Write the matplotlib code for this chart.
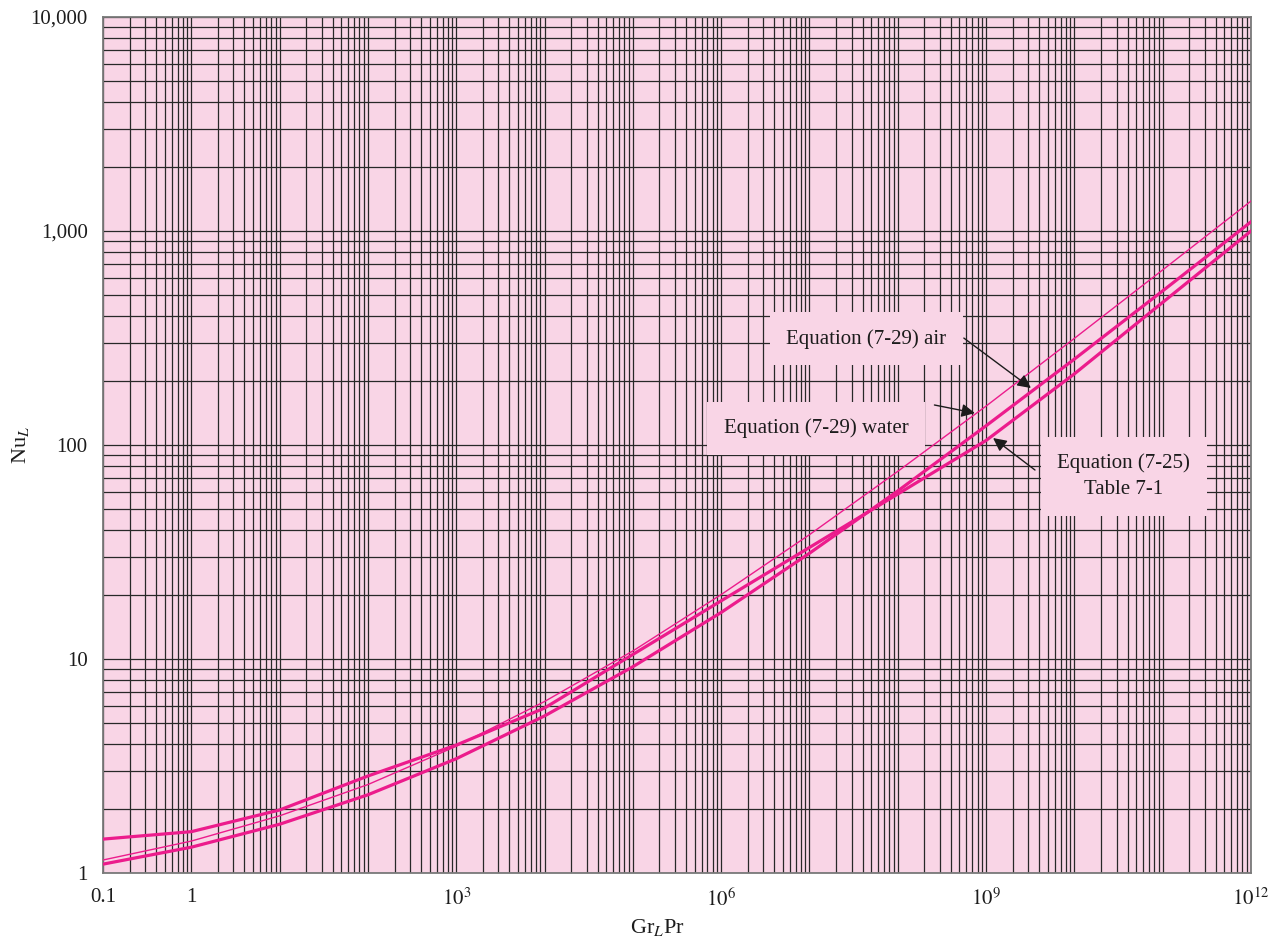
import matplotlib
matplotlib.use("Agg")
import matplotlib.pyplot as plt
from matplotlib.ticker import LogLocator, NullFormatter

plt.rcParams['font.family'] = ['Liberation Serif', 'DejaVu Serif']
plt.rcParams['mathtext.fontset'] = 'stix'

# Gr_L Pr values (decade points the curves were drawn through)
gr_pr = [0.1, 1, 10, 1e2, 1e3, 1e4, 1e5, 1e6, 1e7, 1e8, 1e9, 1e10, 1e11, 1e12]

# Nu_L
nu_table_7_1 = [1.44, 1.56, 1.97, 2.84, 3.96, 5.9, 10.5, 18.7, 33.2, 59, 105, 215, 464, 1000]
nu_eq_air = [1.10, 1.32, 1.69, 2.32, 3.42, 5.42, 9.2, 16.5, 31.2, 61, 123, 252, 525, 1104]
nu_eq_water = [1.15, 1.41, 1.85, 2.59, 3.91, 6.33, 10.9, 20.0, 38.1, 75.3, 152, 315, 658, 1380]

x_ticks = [1e-1, 1, 1e1, 1e2, 1e3, 1e4, 1e5, 1e6, 1e7, 1e8, 1e9, 1e10, 1e11, 1e12]
x_tick_labels = ['0.1', '1', '', '', r'$10^3$', '', '', r'$10^6$', '', '', r'$10^9$', '', '', r'$10^{12}$']
y_ticks = [1, 10, 100, 1000, 10000]
y_tick_labels = ['1', '10', '100', '1,000', '10,000']

pink = '#F9D5E6'
magenta = '#EC1C8C'
grid_color = '#282828'
ink = '#1c1c1c'


def main():

    fig = plt.figure(figsize=(12.79, 9.44), dpi=100)
    ax = fig.add_axes([103 / 1279, 1 - 873 / 944, 1148 / 1279, 856 / 944])
    ax.set_facecolor(pink)

    ax.set_xscale('log')
    ax.set_yscale('log')
    ax.set_xlim(0.1, 1e12)
    ax.set_ylim(1, 10000)

    ax.plot(gr_pr, nu_eq_water, color=magenta, lw=1.0, zorder=3)
    ax.plot(gr_pr, nu_eq_air, color=magenta, lw=2.3, zorder=3)
    ax.plot(gr_pr, nu_table_7_1, color=magenta, lw=2.3, zorder=3)

    ax.set_xticks(x_ticks)
    ax.set_xticklabels(x_tick_labels)
    ax.set_yticks(y_ticks)
    ax.set_yticklabels(y_tick_labels)
    ax.xaxis.set_minor_locator(LogLocator(base=10, subs=range(2, 10), numticks=200))
    ax.yaxis.set_minor_locator(LogLocator(base=10, subs=range(2, 10), numticks=200))
    ax.xaxis.set_minor_formatter(NullFormatter())
    ax.yaxis.set_minor_formatter(NullFormatter())
    ax.tick_params(which='both', length=0, labelsize=15, colors=ink)
    ax.tick_params(axis='x', pad=11)
    ax.tick_params(axis='y', pad=11)

    ax.grid(which='both', color=grid_color, lw=0.9)
    ax.set_axisbelow(True)
    for spine in ax.spines.values():
        spine.set_color('#7a7a7a')
        spine.set_linewidth(1.3)

    ax.set_xlabel(r'Gr$_L$Pr', fontsize=16, color=ink, va='center')
    ax.xaxis.set_label_coords((657 - 103) / 1148, -(927 - 873) / 856)
    ax.set_ylabel(r'Nu$_L$', fontsize=16, color=ink, va='center')
    ax.yaxis.set_label_coords(-(103 - 20) / 1148, 0.5)

    # label boxes hide the grid but sit under the curves
    box = dict(boxstyle='square,pad=0.8', facecolor=pink, edgecolor='none')
    arrow = dict(arrowstyle='-|>', color=ink, lw=1.0, mutation_scale=20,
                 shrinkA=0, shrinkB=0)

    ax.text(4.4e7, 313, 'Equation (7-29) air', fontsize=15, ha='center', va='center',
            color=ink, bbox=box, zorder=2)
    ax.text(1.2e7, 120, 'Equation (7-29) water', fontsize=15, ha='center', va='center',
            color=ink, bbox=box, zorder=2)
    ax.text(3.64e10, 71.6, 'Equation (7-25)\nTable 7-1', fontsize=15, ha='center', va='center',
            color=ink, bbox=box, zorder=2, linespacing=1.5)

    ax.annotate('', xy=(3.22e9, 184.6), xytext=(5.6e8, 316), arrowprops=arrow, zorder=5)
    ax.annotate('', xy=(7.48e8, 141), xytext=(2.6e8, 153.8), arrowprops=arrow, zorder=5)
    ax.annotate('', xy=(1.2e9, 107.8), xytext=(3.58e9, 76.4), arrowprops=arrow, zorder=5)

    fig.savefig('out.png', dpi=100)

    return


if __name__ == "__main__":
    main()
